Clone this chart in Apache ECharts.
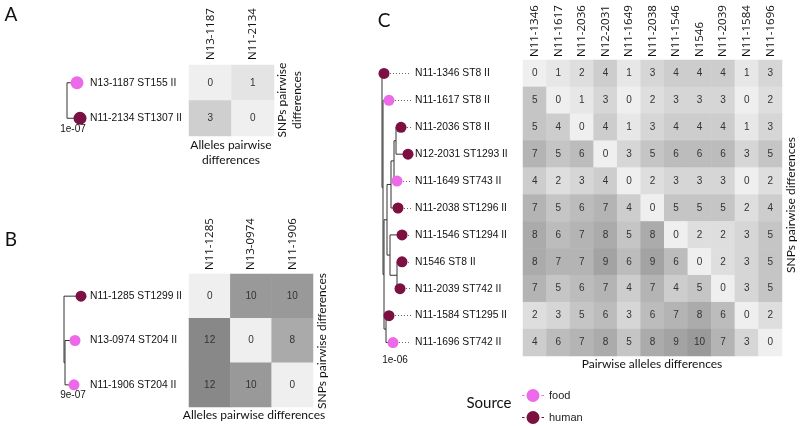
<!DOCTYPE html>
<html><head><meta charset="utf-8">
<script src="https://cdn.jsdelivr.net/npm/echarts@6/dist/echarts.min.js"></script>
<style>html,body{margin:0;padding:0;background:#fff}#c{width:800px;height:426px}</style>
</head><body><div id="c"></div>
<script>
// ---------- Panel A ----------
const colsA = ['N13-1187', 'N11-2134'];
const rowsA = ['N13-1187 ST155 II', 'N11-2134 ST1307 II'];
const matA = [[0, 1], [3, 0]];
const sourceA = ['food', 'human'];
const tipDepthA = [10, 13];
const nodesA = [[0, 't0', 't1']];

// ---------- Panel B ----------
const colsB = ['N11-1285', 'N13-0974', 'N11-1906'];
const rowsB = ['N11-1285 ST1299 II', 'N13-0974 ST204 II', 'N11-1906 ST204 II'];
const matB = [[0, 10, 10], [12, 0, 8], [12, 10, 0]];
const sourceB = ['human', 'food', 'food'];
const tipDepthB = [17, 11, 10];
const nodesB = [[1, 't1', 't2'], [0, 't0', 'n0']];

// ---------- Panel C ----------
const colsC = ['N11-1346', 'N11-1617', 'N11-2036', 'N12-2031', 'N11-1649', 'N11-2038', 'N11-1546', 'N1546', 'N11-2039', 'N11-1584', 'N11-1696'];
const rowsC = ['N11-1346 ST8 II', 'N11-1617 ST8 II', 'N11-2036 ST8 II', 'N12-2031 ST1293 II', 'N11-1649 ST743 II', 'N11-2038 ST1296 II', 'N11-1546 ST1294 II', 'N1546 ST8 II', 'N11-2039 ST742 II', 'N11-1584 ST1295 II', 'N11-1696 ST742 II'];
const matC = [
  [0, 1, 2, 4, 1, 3, 4, 4, 4, 1, 3],
  [5, 0, 1, 3, 0, 2, 3, 3, 3, 0, 2],
  [5, 4, 0, 4, 1, 3, 4, 4, 4, 1, 3],
  [7, 5, 6, 0, 3, 5, 6, 6, 6, 3, 5],
  [4, 2, 3, 4, 0, 2, 3, 3, 3, 0, 2],
  [7, 5, 6, 7, 4, 0, 5, 5, 5, 2, 4],
  [8, 6, 7, 8, 5, 8, 0, 2, 2, 3, 5],
  [8, 7, 7, 9, 6, 9, 6, 0, 2, 3, 5],
  [7, 5, 6, 7, 4, 7, 4, 5, 0, 3, 5],
  [2, 3, 5, 6, 3, 6, 7, 8, 6, 0, 2],
  [4, 6, 7, 8, 5, 8, 9, 10, 7, 3, 0]
];
const sourceC = ['human', 'food', 'human', 'human', 'food', 'human', 'human', 'human', 'human', 'human', 'food'];
const tipDepthC = [2, 7, 19, 26, 15, 16, 20, 20, 18, 7, 11];
const nodesC = [
  [14, 't2', 't3'], [12, 'n0', 't4'], [9, 'n1', 't5'],
  [15, 't7', 't8'], [8, 't6', 'n3'], [5, 'n2', 'n4'],
  [4, 't9', 't10'], [2, 'n5', 'n6'], [1, 't1', 'n7'], [0, 't0', 'n8']
];
const leaderEndC = 29;

const FOOD = '#ec6ae9', HUMAN = '#7b1041';
const TXT = 'Liberation Sans, Arial, sans-serif';
const TTL = 'Lato, sans-serif';

function heatData(m) {
  const out = [];
  m.forEach((r, i) => r.forEach((v, j) => out.push([j, i, v])));
  return out;
}
function treePaths(tipDepth, nodes) {
  const y = {}, d = {};
  tipDepth.forEach((v, i) => { y['t' + i] = i; d['t' + i] = v; });
  const paths = [];
  nodes.forEach((n, i) => {
    const [dep, a, b] = n;
    const k = 'n' + i;
    d[k] = dep; y[k] = (y[a] + y[b]) / 2;
    paths.push({ coords: [[d[a], y[a]], [dep, y[a]], [dep, y[b]], [d[b], y[b]]] });
  });
  return paths;
}
function tips(tipDepth, src, kind) {
  const out = [];
  tipDepth.forEach((v, i) => { if (src[i] === kind) out.push([v, i]); });
  return out;
}

const heatGrids = [
  { left: 189, top: 65, width: 85, height: 71 },
  { left: 189, top: 274, width: 124, height: 133 },
  { left: 523, top: 60, width: 259, height: 296 }
];
const treeGrids = [
  { left: 67, top: 65, width: 13, height: 71, max: 13, n: 2 },
  { left: 64, top: 274, width: 17, height: 133, max: 17, n: 3 },
  { left: 382, top: 60, width: 29, height: 296, max: 29, n: 11 }
];
const cols = [colsA, colsB, colsC], rows = [rowsA, rowsB, rowsC];
const margins = [99, 99, 108], topMargins = [5, 4, 3];

const grid = [], xAxis = [], yAxis = [];
heatGrids.forEach((g, i) => {
  grid.push({ left: g.left, top: g.top, width: g.width, height: g.height });
  xAxis.push({ type: 'category', gridIndex: i, data: cols[i], position: 'top',
    axisLine: { show: false }, axisTick: { show: false }, splitLine: { show: false },
    axisLabel: { rotate: -90, margin: topMargins[i], fontSize: 11.5, color: '#111', fontFamily: 'Open Sans, sans-serif', interval: 0 } });
  yAxis.push({ type: 'category', gridIndex: i, data: rows[i], inverse: true,
    axisLine: { show: false }, axisTick: { show: false }, splitLine: { show: false },
    axisLabel: { align: 'left', margin: margins[i], fontSize: 10.3, color: '#111', fontFamily: TXT, interval: 0 } });
});
treeGrids.forEach((g, i) => {
  grid.push({ left: g.left, top: g.top, width: g.width, height: g.height });
  xAxis.push({ type: 'value', gridIndex: 3 + i, min: 0, max: g.max, show: false });
  yAxis.push({ type: 'value', gridIndex: 3 + i, min: -0.5, max: g.n - 0.5, inverse: true, show: false });
});

const series = [];
const mats = [matA, matB, matC];
mats.forEach((m, i) => {
  series.push({ type: 'heatmap', xAxisIndex: i, yAxisIndex: i, data: heatData(m),
    label: { show: true, fontSize: 10, color: '#333', fontFamily: TXT },
    itemStyle: { borderWidth: 0 }, emphasis: { disabled: true } });
});
const tds = [tipDepthA, tipDepthB, tipDepthC], nds = [nodesA, nodesB, nodesC], srcs = [sourceA, sourceB, sourceC];
const dotSizes = [13, 11, 11];
tds.forEach((td, i) => {
  series.push({ type: 'lines', coordinateSystem: 'cartesian2d', xAxisIndex: 3 + i, yAxisIndex: 3 + i,
    polyline: true, silent: true, data: treePaths(td, nds[i]),
    lineStyle: { color: '#333', width: 1, opacity: 1 } });
});
series.push({ type: 'lines', coordinateSystem: 'cartesian2d', xAxisIndex: 5, yAxisIndex: 5,
  silent: true, data: tipDepthC.map((v, i) => ({ coords: [[v, i], [leaderEndC, i]] })),
  lineStyle: { color: '#666', width: 1, type: [1, 2], opacity: 1 } });
tds.forEach((td, i) => {
  ['food', 'human'].forEach(kind => {
    series.push({ type: 'scatter', name: kind, xAxisIndex: 3 + i, yAxisIndex: 3 + i,
      data: tips(td, srcs[i], kind), symbol: 'circle', symbolSize: dotSizes[i], z: 5,
      itemStyle: { color: kind === 'food' ? FOOD : HUMAN, opacity: 1 } });
  });
});

function txt(x, y, text, size, font, extra) {
  return Object.assign({ type: 'text', x: x, y: y, silent: true,
    style: { text: text, fontSize: size, fontFamily: font, fill: '#111', align: 'center', verticalAlign: 'middle', lineHeight: size * 1.25 } }, extra || {});
}
const R = Math.PI / 2;
const graphic = [
  txt(11, 15, 'A', 19, TTL), txt(11, 240, 'B', 19, TTL), txt(384, 21, 'C', 19, TTL),
  txt(231, 153, 'Alleles pairwise\ndifferences', 12, TTL),
  txt(290, 100, 'SNPs pairwise\ndifferences', 12, TTL, { rotation: R }),
  txt(254, 415, 'Alleles pairwise differences', 12, TTL),
  txt(322, 341, 'SNPs pairwise differences', 12, TTL, { rotation: R }),
  txt(652, 364, 'Pairwise alleles differences', 12, TTL),
  txt(791, 205, 'SNPs pairwise differences', 12, TTL, { rotation: R }),
  txt(73, 129, '1e-07', 10, TXT), txt(73, 395, '9e-07', 10, TXT), txt(395, 360, '1e-06', 10, TXT),
  txt(489, 403, 'Source', 15, TTL)
];

const legendIcon = 'path://M0,6.5h2.5v1h-2.5z M4.5,7a6.5,6.5 0 1,0 13,0a6.5,6.5 0 1,0 -13,0z M19.5,6.5h2.5v1h-2.5z';
const legendBase = { orient: 'vertical', left: 517, itemWidth: 22, itemHeight: 13,
  textStyle: { fontSize: 11, color: '#222', fontFamily: TXT } };
const chart = echarts.init(document.getElementById('c'), null, { renderer: 'canvas' });
chart.setOption({
  animation: false,
  backgroundColor: '#fff',
  grid, xAxis, yAxis, series, graphic,
  visualMap: [
    { show: false, seriesIndex: 0, min: 0, max: 3, inRange: { color: ['#efefef', '#cfcfcf'] } },
    { show: false, seriesIndex: 1, min: 0, max: 12, inRange: { color: ['#efefef', '#888888'] } },
    { show: false, seriesIndex: 2, min: 0, max: 10, inRange: { color: ['#efefef', '#9a9a9a'] } }
  ],
  legend: [
    Object.assign({ top: 384, data: [{ name: 'food', icon: legendIcon }] }, legendBase),
    Object.assign({ top: 406, data: [{ name: 'human', icon: legendIcon }] }, legendBase)
  ]
});
</script></body></html>
